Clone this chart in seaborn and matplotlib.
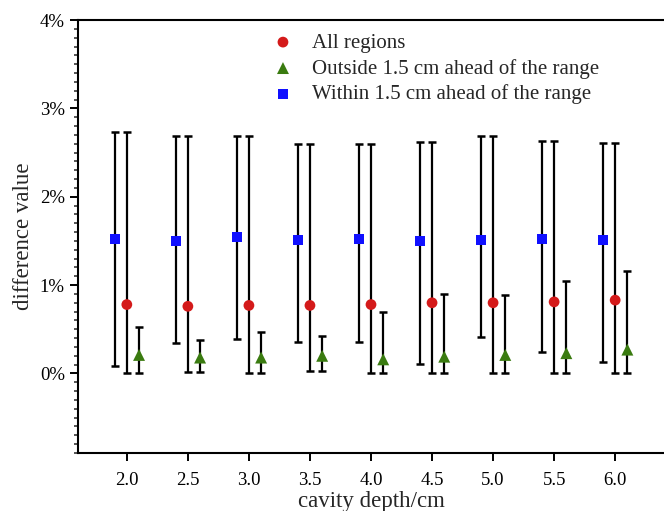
import matplotlib
matplotlib.use("Agg")
import matplotlib.pyplot as plt
import seaborn as sns
import pandas as pd
import numpy as np
from matplotlib.ticker import FuncFormatter, MultipleLocator

# ---- data (values in %) ----
depths = [2.0, 2.5, 3.0, 3.5, 4.0, 4.5, 5.0, 5.5, 6.0]
depth_labels = ["2.0", "2.5", "3.0", "3.5", "4.0", "4.5", "5.0", "5.5", "6.0"]

all_val = [0.78, 0.76, 0.77, 0.77, 0.78, 0.80, 0.80, 0.81, 0.83]
all_lo = [0.00, 0.02, 0.00, 0.03, 0.00, 0.00, 0.00, 0.00, 0.00]
all_hi = [2.73, 2.69, 2.69, 2.60, 2.60, 2.62, 2.69, 2.63, 2.61]

out_val = [0.21, 0.18, 0.18, 0.20, 0.16, 0.19, 0.21, 0.23, 0.27]
out_lo = [0.00, 0.02, 0.00, 0.03, 0.00, 0.00, 0.00, 0.00, 0.00]
out_hi = [0.53, 0.38, 0.47, 0.42, 0.70, 0.90, 0.89, 1.05, 1.16]

in_val = [1.52, 1.50, 1.54, 1.51, 1.52, 1.50, 1.51, 1.52, 1.51]
in_lo = [0.09, 0.34, 0.39, 0.36, 0.36, 0.11, 0.41, 0.24, 0.13]
in_hi = [2.73, 2.69, 2.69, 2.60, 2.60, 2.62, 2.69, 2.63, 2.61]

series_names = ["All regions",
                "Outside 1.5 cm ahead of the range",
                "Within 1.5 cm ahead of the range"]

# ---- styling ----
offsets = {series_names[0]: 0.0, series_names[1]: 0.1, series_names[2]: -0.1}
colors = {series_names[0]: "#d41a1a", series_names[1]: "#3a7b10", series_names[2]: "#1010ff"}
markers = {series_names[0]: "o", series_names[1]: "^", series_names[2]: "s"}
sizes = {series_names[0]: 60, series_names[1]: 74, series_names[2]: 52}

frames = []
for name, v, lo, hi in [(series_names[0], all_val, all_lo, all_hi),
                        (series_names[1], out_val, out_lo, out_hi),
                        (series_names[2], in_val, in_lo, in_hi)]:
    frames.append(pd.DataFrame({"depth": depths, "value": v, "lo": lo, "hi": hi,
                                "series": name}))
df = pd.concat(frames, ignore_index=True)
df["pos"] = df["depth"] + df["series"].map(offsets)

sns.set_theme(style="ticks")
plt.rcParams["font.family"] = ["Liberation Serif", "DejaVu Serif"]

fig = plt.figure(figsize=(6.64, 5.11), dpi=100)
ax = fig.add_axes([78 / 664, 58 / 511, 586 / 664, 433 / 511])

# error bars (min..max range)
for name in series_names:
    d = df[df["series"] == name]
    ax.errorbar(d["pos"], d["value"],
                yerr=[d["value"] - d["lo"], d["hi"] - d["value"]],
                fmt="none", ecolor="black", elinewidth=1.6, capsize=3,
                capthick=1.8, zorder=2)

for name in series_names:
    d = df[df["series"] == name]
    sns.scatterplot(data=d, x="pos", y="value", ax=ax, color=colors[name],
                    marker=markers[name], s=sizes[name], edgecolor="none",
                    linewidth=0, label=name, zorder=3)

ax.set_xlim(1.6, 6.4)
ax.set_ylim(-0.9, 4.0)
ax.set_xticks(depths)
ax.set_xticklabels(depth_labels)
ax.yaxis.set_major_locator(MultipleLocator(1))
ax.yaxis.set_minor_locator(MultipleLocator(0.1))
ax.yaxis.set_major_formatter(FuncFormatter(lambda v, p: f"{v:.0f}%"))

ax.tick_params(axis="both", which="major", direction="out", length=6,
               width=1.4, labelsize=13.5, colors="black")
ax.tick_params(axis="x", which="major", pad=8)
ax.tick_params(axis="y", which="major", pad=3.5)
ax.tick_params(axis="y", which="minor", direction="out", length=3, width=1.1)
ax.tick_params(axis="x", which="minor", length=0)

for s in ["left", "bottom", "top"]:
    ax.spines[s].set_visible(True)
    ax.spines[s].set_linewidth(1.5)
    ax.spines[s].set_color("black")
ax.spines["right"].set_visible(False)

ax.set_xlabel("cavity depth/cm", fontsize=16.5, labelpad=1)
ax.set_ylabel("difference value", fontsize=16.5, labelpad=4)

ax.legend(loc="upper left", bbox_to_anchor=(0.332, 0.970), frameon=False,
          fontsize=15, handlelength=1.0, handletextpad=0.9,
          labelspacing=0.29, borderpad=0, borderaxespad=0)

fig.savefig("out.png", dpi=100)
